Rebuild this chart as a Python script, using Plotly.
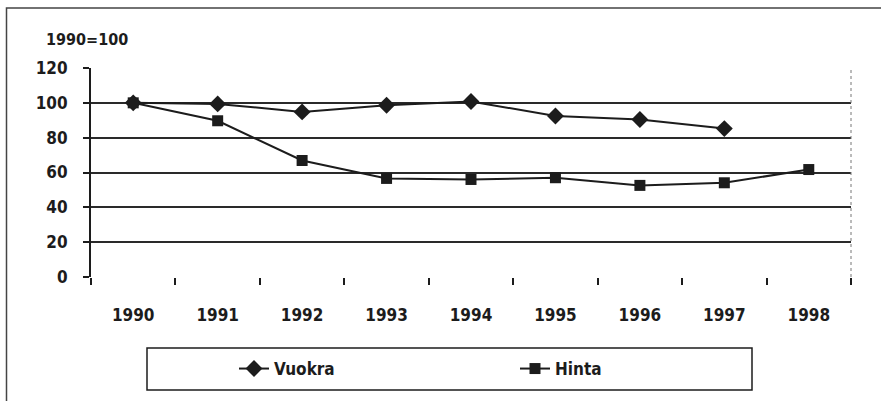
import plotly.graph_objects as go

years = ["1990", "1991", "1992", "1993", "1994", "1995", "1996", "1997", "1998"]
vuokra = [100, 99.4, 94.8, 98.6, 100.8, 92.4, 90.4, 85.2, None]
hinta = [100, 89.7, 66.9, 56.6, 56.0, 57.0, 52.6, 54.1, 61.7]
yticks = [0, 20, 40, 60, 80, 100, 120]

FONT = "Liberation Sans Narrow, DejaVu Sans Condensed, Roboto Condensed, Arial Narrow, Liberation Sans, sans-serif"
INK = "#1c1c1c"
FS = 17

fig = go.Figure()
fig.add_trace(go.Scatter(
    x=years, y=vuokra, name="Vuokra", mode="lines+markers",
    line=dict(color=INK, width=2),
    marker=dict(symbol="diamond", size=13, color=INK),
    legend="legend",
))
fig.add_trace(go.Scatter(
    x=years, y=hinta, name="Hinta", mode="lines+markers",
    line=dict(color=INK, width=2),
    marker=dict(symbol="square", size=11, color=INK),
    legend="legend2",
))

W, H = 881, 401
L, R, T, B = 91, 30, 68, 124
pw, ph = W - L - R, H - T - B

def px(x):
    return (x - L) / pw

def py(y):
    return (H - B - y) / ph

shapes = [
    # outer frame (left + top visible)
    dict(type="rect", xref="paper", yref="paper",
         x0=px(6.5), x1=px(900), y0=py(8), y1=py(420),
         line=dict(color="#444", width=1.5), fillcolor="rgba(0,0,0,0)", layer="below"),
    # plot area right border (dotted)
    dict(type="line", xref="paper", yref="paper", x0=1, x1=1, y0=0, y1=1,
         line=dict(color="#777", width=1, dash="dot")),
    # legend box
    dict(type="rect", xref="paper", yref="paper",
         x0=px(147), x1=px(752), y0=py(390), y1=py(348),
         line=dict(color=INK, width=1.5), fillcolor="rgba(0,0,0,0)"),
]

legfont = dict(family=FONT, size=FS, color=INK, weight="bold")
fig.update_layout(
    width=W, height=H,
    margin=dict(l=L, r=R, t=T, b=B),
    paper_bgcolor="white", plot_bgcolor="white",
    font=dict(family=FONT, size=FS, color=INK),
    shapes=shapes,
    showlegend=True,
    legend=dict(
        orientation="h", x=px(234), xanchor="left", y=py(369), yanchor="middle",
        bgcolor="rgba(0,0,0,0)", borderwidth=0, font=legfont, itemclick=False,
    ),
    legend2=dict(
        orientation="h", x=px(515), xanchor="left", y=py(369), yanchor="middle",
        bgcolor="rgba(0,0,0,0)", borderwidth=0, font=legfont, itemclick=False,
    ),
    annotations=[
        dict(text="1990=100", xref="paper", yref="paper", x=px(44), y=py(40),
             xanchor="left", yanchor="middle", showarrow=False,
             font=dict(family=FONT, size=FS - 1, color=INK, weight="bold")),
    ],
)

fig.update_xaxes(
    type="category", categoryorder="array", categoryarray=years,
    range=[-0.5, 8.5], tickson="boundaries", ticks="outside", ticklen=7,
    tickcolor=INK, tickwidth=1.5, showgrid=False, zeroline=False,
    showline=False, ticklabelstandoff=26, automargin=False,
    tickfont=dict(family=FONT, size=FS, color=INK, weight="bold"),
)
fig.update_yaxes(
    range=[0, 120], tickvals=yticks, ticks="outside", ticklen=6,
    tickcolor=INK, tickwidth=1.5, showgrid=True, gridcolor="#2a2a2a", gridwidth=1.5,
    zeroline=False, showline=True, linecolor=INK, linewidth=2,
    ticklabelstandoff=12, automargin=False,
    tickfont=dict(family=FONT, size=FS, color=INK, weight="bold"),
)

fig.write_html("out.html", config={"displayModeBar": False},
               post_script="document.body.style.margin='0';")
